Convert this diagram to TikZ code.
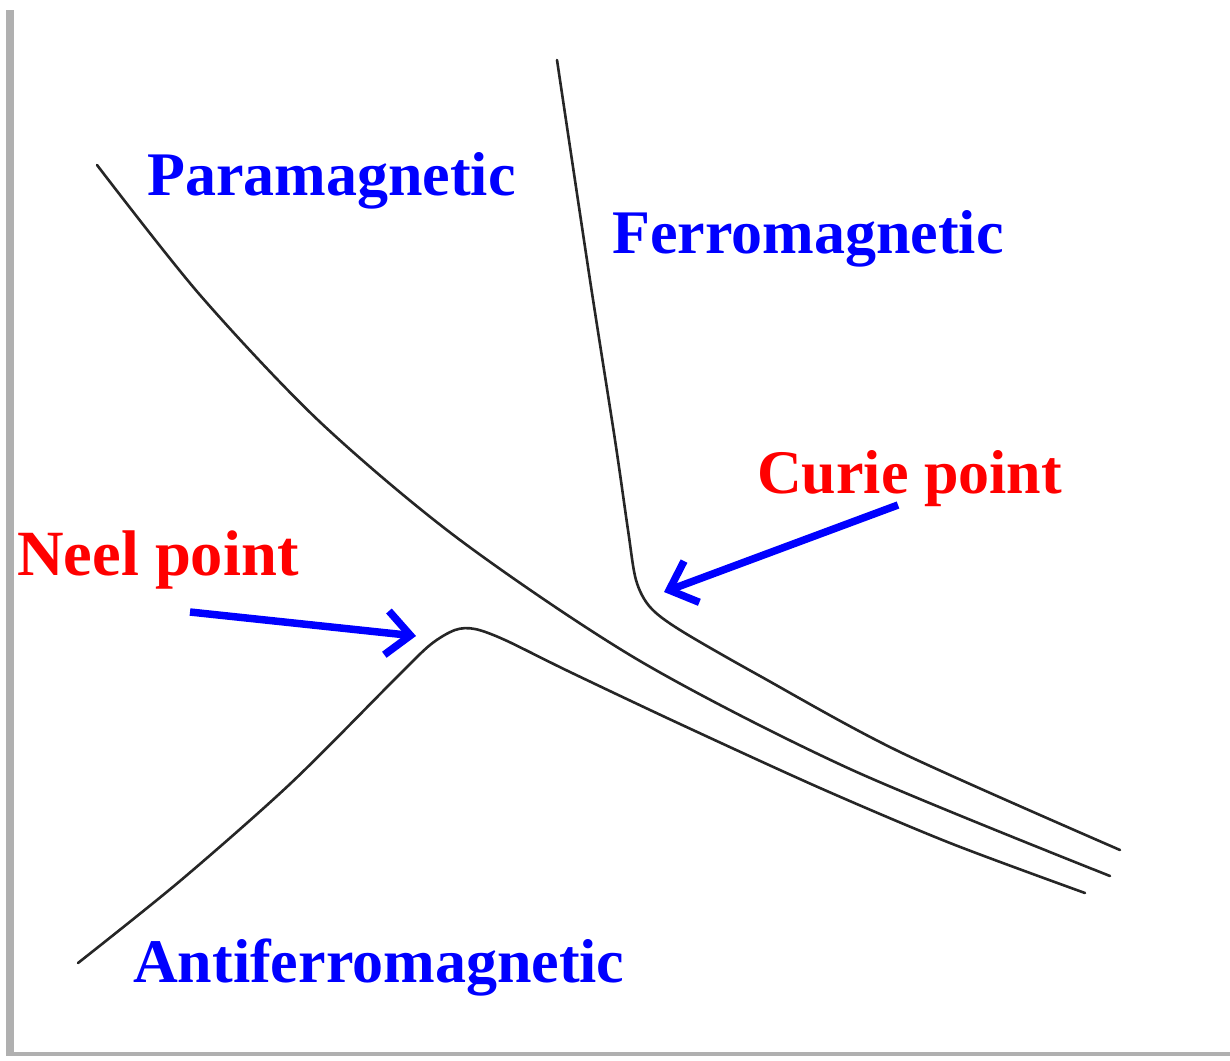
\documentclass[tikz,border=0pt]{standalone}
\usepackage{fontspec}
\setmainfont{Liberation Serif}
\usepackage{tikz}
\usetikzlibrary{arrows.meta}

\definecolor{axisgray}{RGB}{176,176,176}
\definecolor{labelblue}{RGB}{0,0,255}
\definecolor{labelred}{RGB}{255,0,0}

\begin{document}
\begin{tikzpicture}[x=1pt,y=-1pt]
  \tikzset{
    curve/.style={line width=2.6pt, color=black!85, line cap=round},
    phase/.style={font=\fontsize{62}{62}\selectfont\bfseries, text=labelblue,
      inner sep=0pt, anchor=base west},
    transition/.style={phase, text=labelred},
    pointer/.style={line width=7.5pt, color=labelblue,
      -{Straight Barb[length=24pt,width=44pt]}},
  }
  \useasboundingbox (0,0) rectangle (1230,1060);

  % axes
  \fill[axisgray] (6,10) rectangle (14,1056);
  \fill[axisgray] (6,1052) rectangle (1230,1056);

  % paramagnetic
  \draw[curve] plot[smooth] coordinates {
    (97,165) (200,295) (320,422) (460,540) (640,661) (850,769) (1110,876)};

  % ferromagnetic
  \draw[curve] plot[smooth, tension=0.5] coordinates {
    (557,60) (590,280) (615,440) (628,530) (636,580) (650,607)
    (680,630) (760,676) (900,752) (1120,850)};

  % antiferromagnetic
  \draw[curve] plot[smooth, tension=0.5] coordinates {
    (78,963) (180,881) (290,784) (395,679) (430,645) (455,630) (475,629)
    (505,640) (570,672) (680,724) (820,788) (950,843) (1085,893)};

  \node[phase] (para) at (147,195) {Paramagnetic};
  \node[phase] (ferro) at (612,253) {Ferromagnetic};
  \node[phase] (antiferro) at (133,982) {Antiferromagnetic};
  \node[transition, font=\fontsize{64.5}{64.5}\selectfont\bfseries]
    (neel) at (17,575) {Neel point};
  \node[transition] (curie) at (757,493) {Curie point};

  \coordinate (neel tail) at (190,612);
  \coordinate (neel tip) at (416,636);
  \coordinate (curie tail) at (898,505);
  \coordinate (curie tip) at (664,592);

  \draw[pointer] (neel tail) -- (neel tip);
  \draw[pointer] (curie tail) -- (curie tip);
\end{tikzpicture}
\end{document}
